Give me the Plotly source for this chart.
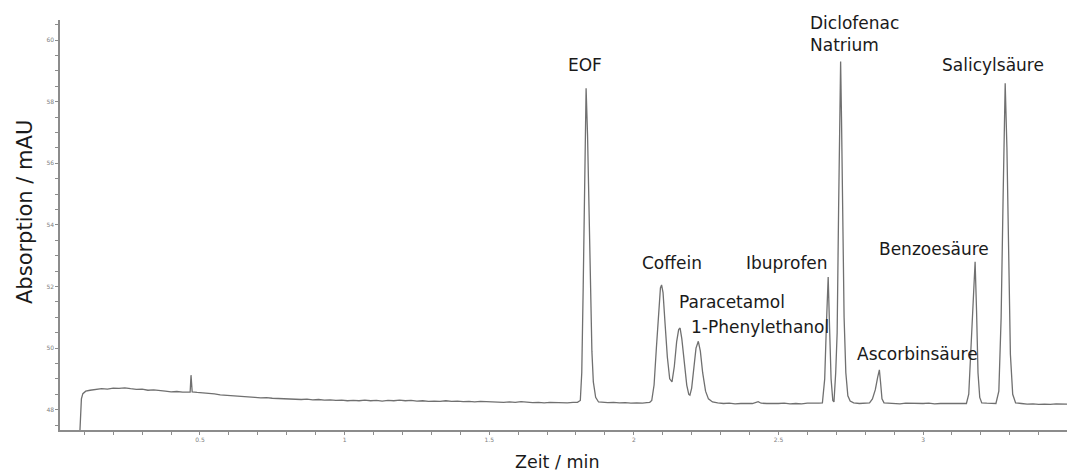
import plotly.graph_objects as go

# ---- data (time in min, absorption in mAU) ----
time_min = [
    0.085, 0.087, 0.090, 0.095, 0.105, 0.12, 0.14, 0.16, 0.18, 0.20, 0.22, 0.24, 0.26, 0.28, 0.30,
    0.32, 0.34, 0.36, 0.38, 0.40, 0.42, 0.44, 0.46, 0.466, 0.469, 0.473,
    0.49, 0.51, 0.53, 0.55, 0.57, 0.59, 0.61, 0.63, 0.65, 0.67, 0.69, 0.71, 0.73, 0.75, 0.77, 0.79,
    0.81, 0.83, 0.85, 0.87, 0.89, 0.91, 0.93, 0.95, 0.97, 0.99, 1.01, 1.03, 1.05, 1.07, 1.09, 1.11,
    1.13, 1.15, 1.17, 1.19, 1.21, 1.23, 1.25, 1.27, 1.29, 1.31, 1.33, 1.35, 1.37, 1.39, 1.41, 1.43,
    1.45, 1.47, 1.49, 1.51, 1.53, 1.55, 1.57, 1.59, 1.61, 1.63, 1.65, 1.67, 1.69, 1.71, 1.73, 1.75,
    1.77, 1.79,
    1.805, 1.815, 1.820, 1.825, 1.830, 1.835, 1.840, 1.845, 1.850, 1.855, 1.860, 1.868, 1.878,
    1.89, 1.91, 1.93, 1.95, 1.97, 1.99, 2.01, 2.03, 2.045,
    2.055, 2.062, 2.070, 2.078, 2.086, 2.092, 2.096, 2.101, 2.108, 2.116, 2.124, 2.132, 2.140, 2.148,
    2.155, 2.160, 2.166, 2.174, 2.183, 2.190, 2.194, 2.200, 2.208, 2.215, 2.223, 2.230, 2.238, 2.248,
    2.258, 2.272,
    2.29, 2.31, 2.33, 2.35, 2.37, 2.39, 2.41, 2.43, 2.44, 2.46, 2.48, 2.50, 2.52, 2.54, 2.56, 2.58,
    2.60, 2.62, 2.64,
    2.652, 2.660, 2.666, 2.672, 2.677, 2.682, 2.688,
    2.692, 2.698, 2.703, 2.708, 2.712, 2.715, 2.718, 2.722, 2.727, 2.733, 2.740, 2.748,
    2.76, 2.78, 2.80,
    2.815, 2.825, 2.835, 2.843, 2.849, 2.853, 2.858, 2.865,
    2.88, 2.90, 2.92, 2.94, 2.96, 2.98, 3.00, 3.02, 3.04, 3.06, 3.08, 3.10, 3.12, 3.14,
    3.150, 3.158, 3.165, 3.172, 3.180, 3.185, 3.190, 3.196, 3.203,
    3.22, 3.24,
    3.252, 3.262, 3.270, 3.277, 3.284, 3.290, 3.296, 3.302, 3.310, 3.320,
    3.34, 3.36, 3.38, 3.40, 3.42, 3.44, 3.46, 3.48, 3.50, 3.515,
]
absorption_mau = [
    47.34, 48.0, 48.35, 48.52, 48.60, 48.63, 48.66, 48.68, 48.67, 48.70, 48.69, 48.71, 48.68, 48.66, 48.67,
    48.63, 48.64, 48.61, 48.60, 48.58, 48.59, 48.57, 48.58, 48.57, 49.12, 48.58,
    48.56, 48.55, 48.52, 48.51, 48.48, 48.47, 48.46, 48.44, 48.43, 48.41, 48.40, 48.38, 48.39, 48.37, 48.36, 48.37,
    48.34, 48.35, 48.33, 48.34, 48.32, 48.33, 48.31, 48.32, 48.30, 48.31, 48.29, 48.30, 48.29, 48.31, 48.29, 48.30,
    48.28, 48.30, 48.29, 48.31, 48.29, 48.30, 48.28, 48.29, 48.27, 48.28, 48.27, 48.29, 48.27, 48.28, 48.26, 48.27,
    48.25, 48.27, 48.26, 48.25, 48.26, 48.24, 48.25, 48.24, 48.26, 48.24, 48.23, 48.24, 48.22, 48.24, 48.23, 48.24,
    48.22, 48.24,
    48.24, 48.30, 49.2, 52.0, 55.8, 58.43, 56.9, 54.3, 51.7, 49.9, 48.9, 48.4, 48.25,
    48.24, 48.23, 48.24, 48.22, 48.23, 48.21, 48.22, 48.21, 48.23,
    48.24, 48.30, 48.8, 50.0, 51.3, 51.95, 52.05, 51.8, 50.8, 49.7, 49.0, 48.9, 49.4, 50.2,
    50.6, 50.65, 50.3, 49.5, 48.8, 48.5, 48.47, 48.7, 49.4, 50.0, 50.22, 49.9, 49.2, 48.6,
    48.35, 48.25,
    48.22, 48.20, 48.21, 48.19, 48.20, 48.21, 48.20, 48.26, 48.21, 48.20, 48.19, 48.20, 48.21, 48.19, 48.20, 48.19,
    48.21, 48.20, 48.21,
    48.22, 49.0, 50.8, 52.31, 50.6, 49.0, 48.3,
    48.25, 49.2, 50.5, 54.5, 57.8, 59.30, 57.5, 54.0, 51.0, 49.2, 48.45, 48.28,
    48.22, 48.20, 48.21,
    48.22, 48.35, 48.65, 49.05, 49.29, 48.9, 48.35, 48.22,
    48.21, 48.20, 48.19, 48.21, 48.20, 48.19, 48.20, 48.21, 48.19, 48.20, 48.20, 48.19, 48.21, 48.20,
    48.20, 48.5, 49.8, 51.5, 52.8, 51.2, 49.2, 48.4, 48.22,
    48.21, 48.20,
    48.20, 48.6, 51.0, 55.0, 58.6, 56.5, 52.5, 49.8, 48.5, 48.22,
    48.20, 48.18, 48.19, 48.17, 48.18, 48.17, 48.19, 48.18, 48.17, 48.18,
]

peak_names = ["EOF", "Coffein", "Paracetamol", "1-Phenylethanol", "Ibuprofen",
              "Diclofenac<br>Natrium", "Ascorbinsäure", "Benzoesäure", "Salicylsäure"]
label_time = [1.831, 2.132, 2.340, 2.436, 2.530, 2.602, 2.981, 3.038, 3.242]
label_value = [59.19, 52.76, 51.49, 50.68, 52.76, 60.19, 49.81, 53.21, 59.19]
label_anchor = ["center", "center", "center", "center", "center", "left", "center", "center", "center"]

x_tick_vals = [0.5, 1, 1.5, 2, 2.5, 3]
x_tick_text = ["0.5", "1", "1.5", "2", "2.5", "3"]
y_tick_vals = [48, 50, 52, 54, 56, 58, 60]
y_tick_text = ["48", "50", "52", "54", "56", "58", "60"]

# page body has an 8px default margin, so plot area is offset accordingly
PLOT_W = 1064 - 52
PLOT_H = 422 - 12

fig = go.Figure()
fig.add_trace(go.Scatter(x=time_min, y=absorption_mau, mode="lines",
                         line=dict(color="#707070", width=1.3), hoverinfo="skip",
                         showlegend=False))

annotations = []
for name, tx, ty, anc in zip(peak_names, label_time, label_value, label_anchor):
    annotations.append(dict(x=tx, y=ty, xref="x", yref="y", text=name, showarrow=False,
                            xanchor=anc, yanchor="middle", align="left",
                            font=dict(family="DejaVu Sans", size=17, color="#1a1a1a")))
annotations.append(dict(x=(557 - 60) / PLOT_W, y=-(462 - 430) / PLOT_H, xref="paper", yref="paper",
                        text="Zeit / min", showarrow=False, xanchor="center", yanchor="middle",
                        font=dict(family="DejaVu Sans", size=17.5, color="#1a1a1a")))
annotations.append(dict(x=-(60 - 25) / PLOT_W, y=(430 - 212) / PLOT_H, xref="paper", yref="paper",
                        text="Absorption / mAU", showarrow=False, textangle=-90,
                        xanchor="center", yanchor="middle",
                        font=dict(family="DejaVu Sans", size=21, color="#1a1a1a")))

fig.update_layout(
    width=1075, height=473,
    margin=dict(l=52, r=11, t=12, b=51, autoexpand=False),
    paper_bgcolor="white", plot_bgcolor="white",
    showlegend=False,
    annotations=annotations,
)

axis_common = dict(showgrid=False, zeroline=False, showline=True, linecolor="#8c8c8c",
                   linewidth=1.5, ticks="outside", ticklen=3, tickwidth=1, tickcolor="#8c8c8c",
                   automargin=False,
                   tickfont=dict(family="DejaVu Sans", size=6, color="#808080"))

fig.update_xaxes(range=[0.016, 3.515], tickvals=x_tick_vals, ticktext=x_tick_text,
                 minor=dict(dtick=0.1, tick0=0, ticks="outside", ticklen=3, tickcolor="#8c8c8c"),
                 **axis_common)
fig.update_yaxes(range=[47.34, 60.65], tickvals=y_tick_vals, ticktext=y_tick_text,
                 minor=dict(dtick=0.5, tick0=0, ticks="outside", ticklen=3, tickcolor="#8c8c8c"),
                 **axis_common)

fig.write_html("out.html")
